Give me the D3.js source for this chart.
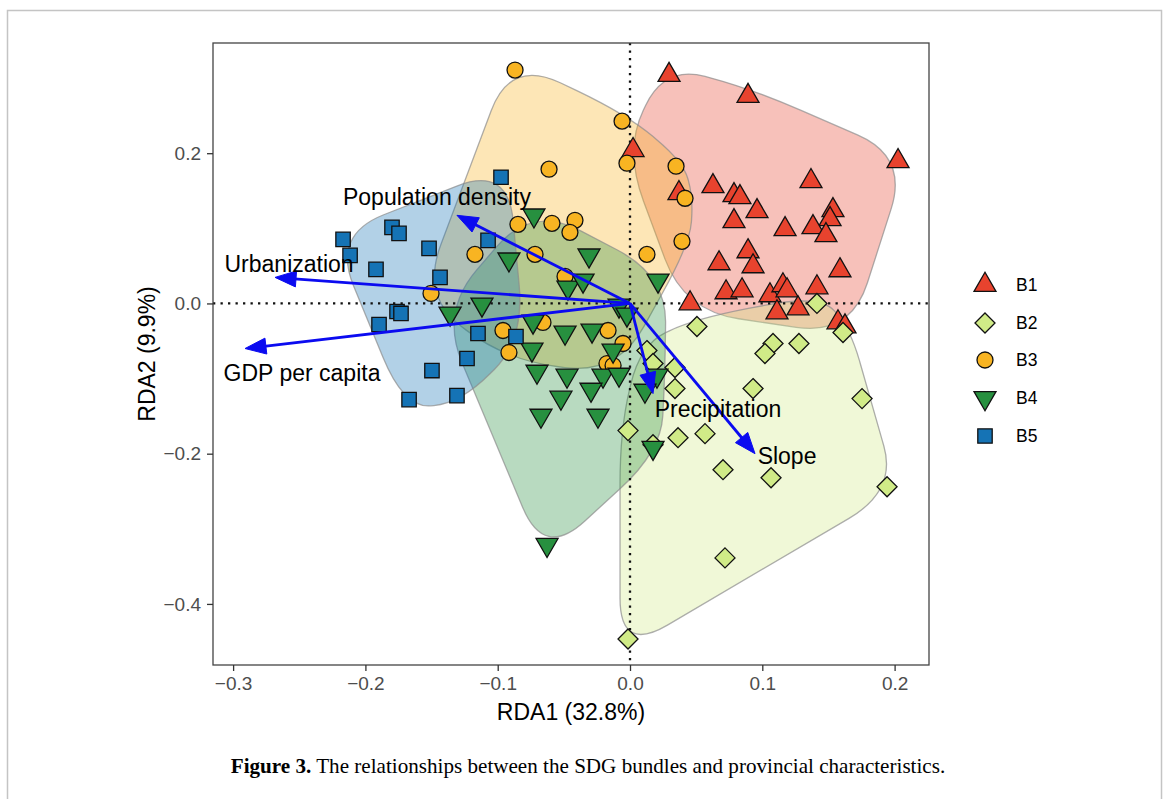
<!DOCTYPE html>
<html><head><meta charset="utf-8">
<script src="https://cdn.jsdelivr.net/npm/d3@7"></script>
<style>body{margin:0;background:#fff;} svg{display:block;}</style>
</head><body>
<svg id="chart" width="1167" height="799"></svg>
<script>
// ---------------- data ----------------
const groups = ["B1","B2","B3","B4","B5"];
const groupColors = ["#E8432E","#D0EB87","#F8B422","#27903F","#1573B5"];
const groupShapes = ["triangleUp","diamond","circle","triangleDown","square"];

const b1X = [0.0295,0.0892,0.2026,0.0023,0.0627,0.0370,0.0786,0.0831,0.0960,0.1368,0.1534,0.1512,0.0786,0.1172,0.1383,0.1481,0.0892,0.0673,0.0930,0.1587,0.0726,0.0847,0.1058,0.1156,0.1187,0.1413,0.0454,0.1111,0.1270,0.1572,0.1625];
const b1Y = [0.304,0.276,0.1893,0.204,0.156,0.1467,0.144,0.1413,0.1227,0.1627,0.124,0.112,0.1093,0.0987,0.1013,0.0907,0.0693,0.0533,0.0493,0.044,0.0147,0.0173,0.0107,0.024,0.0173,0.0213,0.0,-0.012,-0.0067,-0.0253,-0.0307];

const b2X = [0.1413,0.0506,0.1081,0.1020,0.1277,0.1610,0.0128,0.0174,0.0340,0.0340,0.0930,0.1754,0.0567,0.0363,-0.0015,0.0174,0.0703,0.1066,0.1943,0.0718,-0.0015];
const b2Y = [0.0,-0.0307,-0.0533,-0.0667,-0.0533,-0.0387,-0.0627,-0.08,-0.0853,-0.1133,-0.1133,-0.1267,-0.1733,-0.1787,-0.1693,-0.188,-0.2213,-0.232,-0.244,-0.3387,-0.4467];

const b3X = [-0.0869,-0.0060,-0.0023,-0.0612,0.0348,0.0416,0.0393,-0.0847,-0.0590,-0.0416,-0.0454,-0.1172,-0.0718,-0.0491,0.0128,-0.1504,-0.0658,-0.0960,-0.0166,-0.0053,-0.0915,-0.0174,-0.0128];
const b3Y = [0.3107,0.2427,0.1867,0.1787,0.1827,0.14,0.0827,0.1053,0.1067,0.1107,0.0947,0.0653,0.0653,0.036,0.0653,0.0133,-0.0253,-0.036,-0.036,-0.0533,-0.0653,-0.08,-0.0827];

const b4X = [-0.0726,-0.0915,-0.0310,0.0212,-0.0469,-0.0355,-0.1119,-0.1360,-0.0733,-0.0083,-0.0023,-0.0491,-0.0287,-0.0741,-0.0128,-0.0703,-0.0476,-0.0204,-0.0083,-0.0295,-0.0522,-0.0673,-0.0242,0.0204,0.0113,0.0174,-0.0627];
const b4Y = [0.1173,0.0587,0.064,0.0307,0.0213,0.0307,-0.0013,-0.0133,-0.024,-0.0027,-0.0147,-0.0387,-0.036,-0.0613,-0.0627,-0.0907,-0.096,-0.096,-0.0947,-0.1147,-0.1253,-0.1493,-0.1493,-0.096,-0.116,-0.192,-0.3213];

const b5X = [-0.0975,-0.2169,-0.1799,-0.1746,-0.1073,-0.2116,-0.1920,-0.1519,-0.1436,-0.1761,-0.1731,-0.1897,-0.1149,-0.0862,-0.1232,-0.1497,-0.1308,-0.1670];
const b5Y = [0.168,0.0853,0.1013,0.0933,0.084,0.064,0.0453,0.0733,0.0347,-0.0107,-0.0133,-0.028,-0.04,-0.044,-0.0733,-0.0893,-0.1227,-0.128];

const groupX = [b1X,b2X,b3X,b4X,b5X];
const groupY = [b1Y,b2Y,b3Y,b4Y,b5Y];

const arrowNames = ["Population density","Urbanization","GDP per capita","Precipitation","Slope"];
const arrowX = [-0.1308,-0.2683,-0.2910,0.0174,0.0945];
const arrowY = [0.1173,0.0347,-0.0600,-0.1200,-0.2000];
const arrowLabelX = [-0.1459,-0.2577,-0.2479,0.0665,0.1187];
const arrowLabelY = [0.1413,0.0520,-0.0920,-0.1400,-0.2027];

const xTicks = [-0.3,-0.2,-0.1,0.0,0.1,0.2];
const xTickLabels = ["\u22120.3","\u22120.2","\u22120.1","0.0","0.1","0.2"];
const yTicks = [-0.4,-0.2,0.0,0.2];
const yTickLabels = ["\u22120.4","\u22120.2","0.0","0.2"];
const xDomain = [-0.3152,0.2260];
const yDomain = [-0.4813,0.3467];
const xTitle = "RDA1 (32.8%)";
const yTitle = "RDA2 (9.9%)";
const captionBold = "Figure 3.";
const captionRest = " The relationships between the SDG bundles and provincial characteristics.";

// ---------------- layout ----------------
const svg = d3.select("#chart");
const P = {left:213, right:929, top:43, bottom:665};
const x = d3.scaleLinear().domain(xDomain).range([P.left,P.right]);
const y = d3.scaleLinear().domain(yDomain).range([P.bottom,P.top]);
const SANS = "'Liberation Sans', Arial, sans-serif";

// outer frame
svg.append("rect").attr("x",7.5).attr("y",10.5).attr("width",1154).attr("height",800)
  .attr("fill","none").attr("stroke","#c4c4c4").attr("stroke-width",1.5);

// clip for panel
svg.append("clipPath").attr("id","panelClip").append("rect")
  .attr("x",P.left).attr("y",P.top).attr("width",P.right-P.left).attr("height",P.bottom-P.top);
const panel = svg.append("g").attr("clip-path","url(#panelClip)");

// ---------------- hulls ----------------
function smoothHull(pts, E, f, Tmax){
  const h = d3.polygonHull(pts);
  const n = h.length;
  const cx = d3.mean(h,p=>p[0]), cy = d3.mean(h,p=>p[1]);
  const normals = [];
  for(let i=0;i<n;i++){
    const a=h[i], b=h[(i+1)%n];
    const dx=b[0]-a[0], dy=b[1]-a[1], L=Math.hypot(dx,dy)||1;
    let nx=dy/L, ny=-dx/L;
    const mx=(a[0]+b[0])/2-cx, my=(a[1]+b[1])/2-cy;
    if(nx*mx+ny*my<0){nx=-nx;ny=-ny;}
    normals.push([nx,ny]);
  }
  const off = h.map((v,i)=>{
    const n1=normals[(i-1+n)%n], n2=normals[i];
    let bx=n1[0]+n2[0], by=n1[1]+n2[1];
    const L=Math.hypot(bx,by)||1; bx/=L; by/=L;
    const c=Math.max(bx*n2[0]+by*n2[1],0.45);
    const d=E/c;
    return [v[0]+bx*d, v[1]+by*d];
  });
  let path="";
  for(let i=0;i<n;i++){
    const Pp=off[(i-1+n)%n], V=off[i], N=off[(i+1)%n];
    const dIn=Math.hypot(Pp[0]-V[0],Pp[1]-V[1])||1, dOut=Math.hypot(N[0]-V[0],N[1]-V[1])||1;
    const tIn=Math.min(f*dIn,Tmax), tOut=Math.min(f*dOut,Tmax);
    const A=[V[0]+(Pp[0]-V[0])/dIn*tIn, V[1]+(Pp[1]-V[1])/dIn*tIn];
    const B=[V[0]+(N[0]-V[0])/dOut*tOut, V[1]+(N[1]-V[1])/dOut*tOut];
    path += (i===0?"M":"L")+A[0].toFixed(2)+","+A[1].toFixed(2)+"Q"+V[0].toFixed(2)+","+V[1].toFixed(2)+" "+B[0].toFixed(2)+","+B[1].toFixed(2);
  }
  return path+"Z";
}

groups.forEach((g,gi)=>{
  const pts = groupX[gi].map((v,i)=>[x(v), y(groupY[gi][i])]);
  panel.append("path").attr("d",smoothHull(pts,8,0.47,55))
    .attr("fill",groupColors[gi]).attr("fill-opacity",0.33)
    .attr("stroke","#8c8c8c").attr("stroke-opacity",0.7).attr("stroke-width",1.3);
});

// zero lines
panel.append("line").attr("x1",P.left).attr("x2",P.right).attr("y1",y(0)).attr("y2",y(0))
  .attr("stroke","#111").attr("stroke-width",2.3).attr("stroke-dasharray","2.3,5.2");
panel.append("line").attr("y1",P.top).attr("y2",P.bottom).attr("x1",x(0)).attr("x2",x(0))
  .attr("stroke","#111").attr("stroke-width",2.3).attr("stroke-dasharray","2.3,5.2");

// ---------------- symbols ----------------
function shapePath(shape){
  if(shape==="triangleUp"){const r=12.7;return `M0,${-r}L${0.866*r},${r/2}L${-0.866*r},${r/2}Z`;}
  if(shape==="triangleDown"){const r=12.7;return `M0,${r}L${0.866*r},${-r/2}L${-0.866*r},${-r/2}Z`;}
  if(shape==="diamond"){const r=10;return `M0,${-r}L${r},0L0,${r}L${-r},0Z`;}
  if(shape==="square"){const r=7.2;return `M${-r},${-r}H${r}V${r}H${-r}Z`;}
  const r=8; return `M${r},0A${r},${r} 0 1,1 ${-r},0A${r},${r} 0 1,1 ${r},0Z`;
}
groups.forEach((g,gi)=>{
  panel.append("g").selectAll("path").data(groupX[gi].map((v,i)=>[v,groupY[gi][i]])).join("path")
    .attr("d",shapePath(groupShapes[gi]))
    .attr("transform",d=>`translate(${x(d[0])},${y(d[1])})`)
    .attr("fill",groupColors[gi]).attr("stroke","#111").attr("stroke-width",1.3);
});

// ---------------- arrows ----------------
const ox=x(0), oy=y(0);
arrowNames.forEach((name,i)=>{
  const tx=x(arrowX[i]), ty=y(arrowY[i]);
  const dx=tx-ox, dy=ty-oy, L=Math.hypot(dx,dy), ux=dx/L, uy=dy/L;
  const hl=21, hw=8;
  const bx=tx-ux*hl, by=ty-uy*hl;
  panel.append("line").attr("x1",ox).attr("y1",oy).attr("x2",tx-ux*hl*0.6).attr("y2",ty-uy*hl*0.6)
    .attr("stroke","#0b0bf0").attr("stroke-width",2.8);
  panel.append("path").attr("d",`M${tx},${ty}L${bx-uy*hw},${by+ux*hw}L${bx+uy*hw},${by-ux*hw}Z`)
    .attr("fill","#0b0bf0").attr("stroke","#0b0bf0").attr("stroke-width",1);
  svg.append("text").attr("x",x(arrowLabelX[i])).attr("y",y(arrowLabelY[i]))
    .attr("text-anchor","middle").attr("dominant-baseline","central")
    .attr("font-family",SANS).attr("font-size",23).attr("fill","#000").text(name);
});

// ---------------- panel border & axes ----------------
svg.append("rect").attr("x",P.left).attr("y",P.top).attr("width",P.right-P.left).attr("height",P.bottom-P.top)
  .attr("fill","none").attr("stroke","#444").attr("stroke-width",1.3);

const xAxis = svg.append("g").attr("transform",`translate(0,${P.bottom})`)
  .call(d3.axisBottom(x).tickValues(xTicks).tickFormat((d,i)=>xTickLabels[i]).tickSize(6).tickPadding(6));
const yAxis = svg.append("g").attr("transform",`translate(${P.left},0)`)
  .call(d3.axisLeft(y).tickValues(yTicks).tickFormat((d,i)=>yTickLabels[i]).tickSize(6).tickPadding(6));
[xAxis,yAxis].forEach(a=>{
  a.select(".domain").remove();
  a.selectAll(".tick line").attr("stroke","#333").attr("stroke-width",1.3);
  a.selectAll(".tick text").attr("fill","#4d4d4d").attr("font-family",SANS).attr("font-size",19);
});

svg.append("text").attr("x",(P.left+P.right)/2).attr("y",712).attr("text-anchor","middle")
  .attr("dominant-baseline","central").attr("font-family",SANS).attr("font-size",23).attr("fill","#000").text(xTitle);
svg.append("text").attr("transform",`translate(147,${(P.top+P.bottom)/2}) rotate(-90)`).attr("text-anchor","middle")
  .attr("dominant-baseline","central").attr("font-family",SANS).attr("font-size",23).attr("fill","#000").text(yTitle);

// ---------------- legend ----------------
const legendY = [285,323,360,398,436];
groups.forEach((g,gi)=>{
  svg.append("path").attr("d",shapePath(groupShapes[gi])).attr("transform",`translate(985,${legendY[gi]})`)
    .attr("fill",groupColors[gi]).attr("stroke","#111").attr("stroke-width",1.3);
  svg.append("text").attr("x",1016).attr("y",legendY[gi]).attr("dominant-baseline","central")
    .attr("font-family",SANS).attr("font-size",17.5).attr("fill","#000").text(g);
});

// ---------------- caption ----------------
const cap = svg.append("text").attr("x",588).attr("y",773).attr("text-anchor","middle")
  .attr("font-family","'Liberation Serif', 'Times New Roman', serif").attr("font-size",20).attr("fill","#000");
cap.append("tspan").attr("font-weight","bold").text(captionBold);
cap.append("tspan").text(captionRest);
const w = cap.node().getComputedTextLength();
cap.attr("font-size", 20*715/w);
</script>
</body></html>
